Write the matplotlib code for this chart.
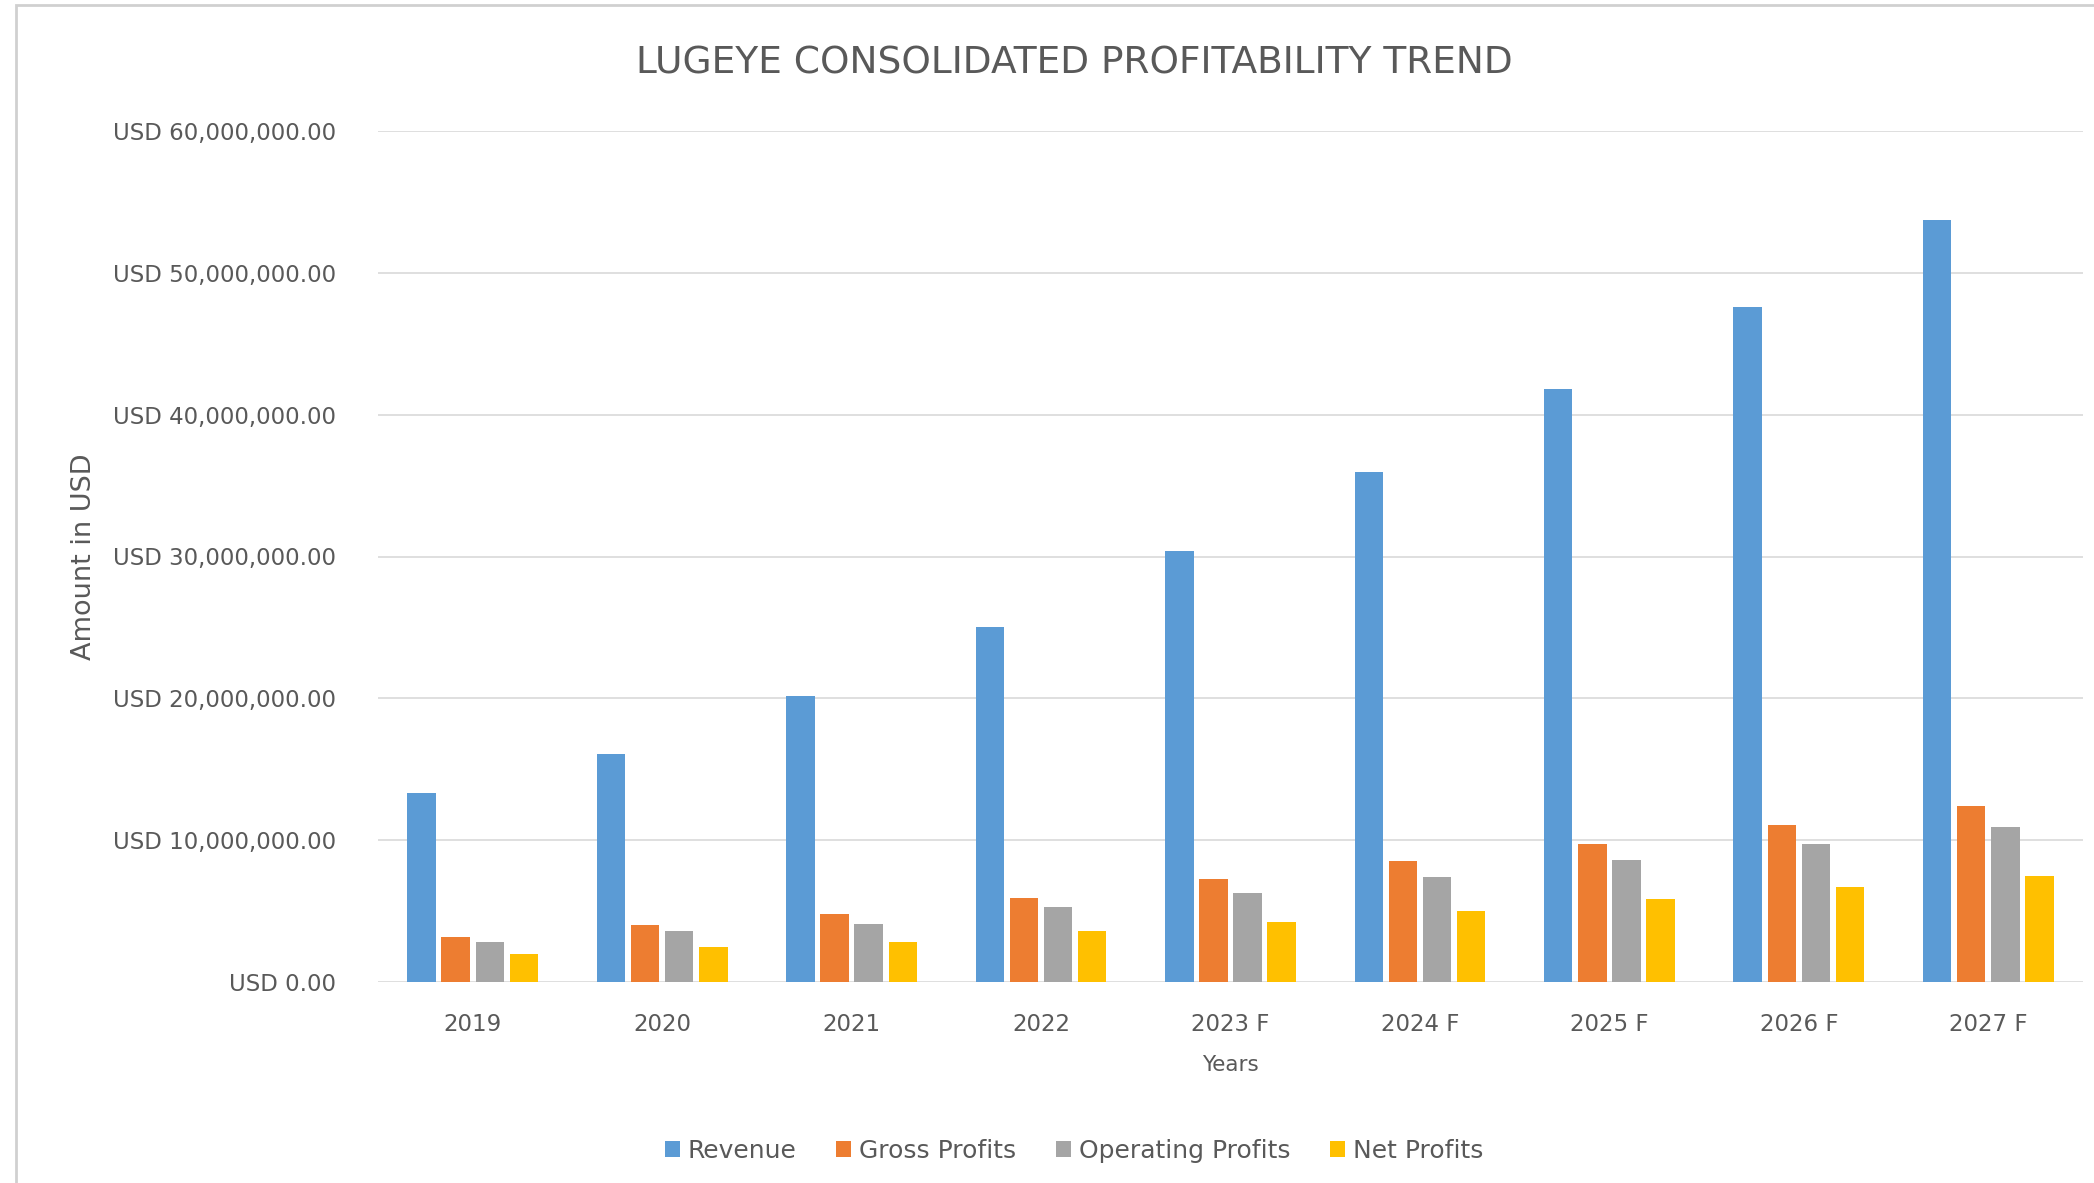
import matplotlib.pyplot as plt
import numpy as np
from matplotlib.patches import Rectangle

years = ['2019', '2020', '2021', '2022', '2023 F', '2024 F', '2025 F', '2026 F', '2027 F']
revenue = [13.3, 16.1, 20.15, 25.05, 30.4, 35.95, 41.8, 47.6, 53.7]
gross_profits = [3.2, 4.05, 4.8, 5.9, 7.25, 8.5, 9.7, 11.1, 12.4]
operating_profits = [2.8, 3.6, 4.1, 5.3, 6.3, 7.4, 8.6, 9.7, 10.9]
net_profits = [2.0, 2.45, 2.8, 3.6, 4.25, 5.0, 5.85, 6.7, 7.45]

series = [('Revenue', revenue, '#5B9BD5'),
          ('Gross Profits', gross_profits, '#ED7D31'),
          ('Operating Profits', operating_profits, '#A5A5A5'),
          ('Net Profits', net_profits, '#FFC000')]

txt = '#595959'

fig = plt.figure(figsize=(20.94, 11.83), dpi=100)
ax = fig.add_axes([378 / 2094, 1 - 982 / 1183, (2083 - 378) / 2094, (982 - 131) / 1183])

# light frame around the chart, like the Excel chart border
fig.patches.append(Rectangle((16 / 2094, -0.01), 1.1, 1 - 5 / 1183 + 0.01, transform=fig.transFigure,
                             fill=False, edgecolor='#D0D0D0', linewidth=2))

x = np.arange(len(years))
width = 0.15
step = 0.18
for i, (name, vals, col) in enumerate(series):
    ax.bar(x + (i - 1.5) * step, [v * 1e6 for v in vals], width, color=col, label=name, zorder=3)

ax.set_xlim(-0.5, len(years) - 0.5)
ax.set_ylim(0, 60e6)
ticks = np.arange(0, 60e6 + 1, 10e6)
ax.set_yticks(ticks)
ax.set_yticklabels(['USD {:,.2f}'.format(v) for v in ticks], fontsize=16.5, color=txt)
ax.set_xticks(x)
ax.set_xticklabels(years, fontsize=16.5, color=txt)
ax.tick_params(axis='both', length=0)
ax.tick_params(axis='y', pad=30)
ax.tick_params(axis='x', pad=22)
ax.grid(axis='y', color='#D9D9D9', linewidth=1.2, zorder=0)
for s in ax.spines.values():
    s.set_visible(False)

ax.set_xlabel('Years', fontsize=15.5, color=txt, labelpad=14)
ax.set_ylabel('Amount in USD', fontsize=19.5, color=txt, labelpad=12)
fig.text(1074 / 2094, 1 - 63 / 1183, 'LUGEYE CONSOLIDATED PROFITABILITY TREND',
         ha='center', va='center', fontsize=27, color=txt)

fig.legend(loc='center', bbox_to_anchor=(1074 / 2094, 1 - 1151 / 1183), ncol=4, frameon=False,
           prop={'size': 18}, labelcolor=txt, handlelength=0.6, handleheight=0.6,
           handletextpad=0.3, columnspacing=1.6)

fig.savefig('out.png', dpi=100)
